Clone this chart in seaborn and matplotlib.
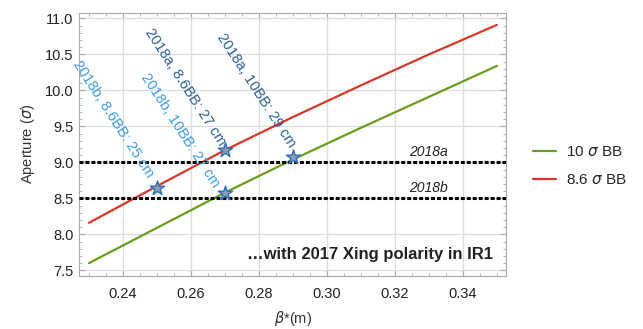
import numpy as np
import pandas as pd
import matplotlib
matplotlib.use("Agg")
import matplotlib.pyplot as plt
import seaborn as sns
from matplotlib.ticker import MultipleLocator

# beta* values and aperture curves
beta = [0.23, 0.25, 0.27, 0.29, 0.31, 0.33, 0.35]
ap_10bb = [7.60, 8.09, 8.58, 9.04, 9.48, 9.91, 10.34]
ap_86bb = [8.16, 8.67, 9.17, 9.63, 10.07, 10.50, 10.91]

# working points (stars) and their labels
star_x = [0.25, 0.27, 0.27, 0.29]
star_y = [8.65, 8.58, 9.17, 9.07]
star_txt = ["2018b, 8.6BB: 25 cm", "2018b, 10BB: 27 cm", "2018a, 8.6BB: 27 cm", "2018a, 10BB: 29 cm"]
txt_x = [0.2372, 0.2569, 0.2584, 0.2792]
txt_y = [9.60, 9.45, 10.04, 10.00]
txt_col = ["#3a9be6", "#3a9be6", "#2a5f94", "#2a5f94"]

# run scenarios
run_names = ["2018a", "2018b"]
run_levels = [9.0, 8.5]

sns.set_theme(style="whitegrid")
plt.rcParams['font.family'] = ['Liberation Sans', 'DejaVu Sans']
plt.rcParams['mathtext.fontset'] = 'dejavusans'

df = pd.DataFrame({
    "beta": beta * 2,
    "aperture": ap_10bb + ap_86bb,
    "curve": ["10 $\\sigma$ BB"] * len(beta) + ["8.6 $\\sigma$ BB"] * len(beta),
})

fig = plt.figure(figsize=(6.43, 3.29), dpi=100)
ax = fig.add_axes([0.123, 0.162, 0.664, 0.799])

pal = {"10 $\\sigma$ BB": "#6a9c1e", "8.6 $\\sigma$ BB": "#d9372c"}
sns.lineplot(data=df, x="beta", y="aperture", hue="curve", palette=pal, lw=1.6, ax=ax, legend=True)

# horizontal run levels
for name, lev in zip(run_names, run_levels):
    ax.axhline(lev, color="black", ls=(0, (1.3, 0.65)), lw=2.2, zorder=3)
    ax.text(0.3298, lev + 0.14, name, style="italic", fontsize=10, ha="center", va="center", color="#222222")

# stars + rotated labels
ax.scatter(star_x, star_y, marker="*", s=115, facecolor="#8d9db2", edgecolor="#2f6db5", lw=1.0, zorder=5)
for tx, ty, t, c in zip(txt_x, txt_y, star_txt, txt_col):
    ax.text(tx, ty, t, rotation=-57, rotation_mode="anchor", ha="center", va="center",
            fontsize=10.5, color=c, zorder=4)

ax.text(0.3489, 7.72, "\u2026with 2017 Xing polarity in IR1", fontsize=12, fontweight="bold",
        ha="right", va="center", color="#222222")

ax.set_xlim(0.2271, 0.3527)
ax.set_ylim(7.425, 11.078)
ax.xaxis.set_major_locator(MultipleLocator(0.02))
ax.xaxis.set_minor_locator(MultipleLocator(0.005))
ax.yaxis.set_major_locator(MultipleLocator(0.5))
ax.yaxis.set_minor_locator(MultipleLocator(0.1))
ax.xaxis.set_major_formatter(matplotlib.ticker.FormatStrFormatter("%.2f"))
ax.yaxis.set_major_formatter(matplotlib.ticker.FormatStrFormatter("%.1f"))

ax.set_facecolor("white")
ax.grid(True, which="major", color="#dddddd", lw=0.9)
ax.grid(False, which="minor")
for sp in ax.spines.values():
    sp.set_color("#aaaaaa")
    sp.set_linewidth(0.8)
ax.tick_params(which="both", direction="in", top=True, right=True, bottom=True, left=True,
               color="#aaaaaa", labelsize=10.5, labelcolor="#222222")
ax.tick_params(which="major", length=4, width=0.8)
ax.tick_params(which="minor", length=2, width=0.6)
ax.tick_params(axis="x", pad=8)
ax.tick_params(axis="y", pad=4)

ax.set_xlabel("$\\beta$*(m)", fontsize=10.5, color="#333333", labelpad=6)
ax.set_ylabel("Aperture ($\\sigma$)", fontsize=10.5, color="#333333", labelpad=6)

leg = ax.legend(loc="center left", bbox_to_anchor=(1.03, 0.417), frameon=False, fontsize=11,
                handlelength=1.5, handletextpad=0.7, labelspacing=0.9, title=None)
for h in leg.get_lines():
    h.set_linewidth(1.6)

fig.savefig("out.png", dpi=100)
